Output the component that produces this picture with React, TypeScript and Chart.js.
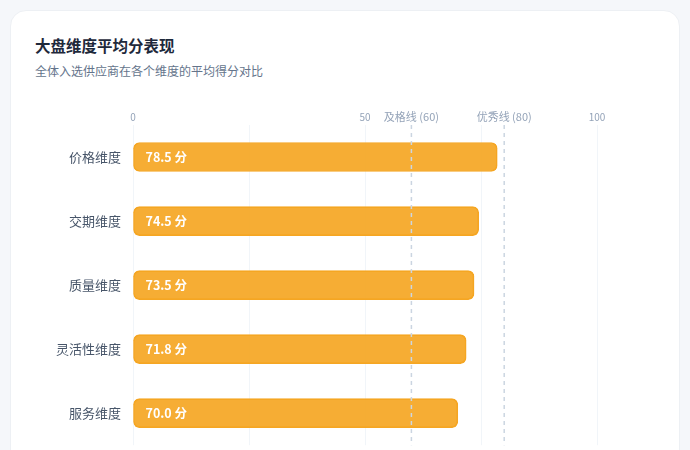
import { useEffect, useRef } from 'react';
import { Chart, registerables } from 'chart.js';

Chart.register(...registerables);

// 维度与平均分
const dimensions = ['价格维度', '交期维度', '质量维度', '灵活性维度', '服务维度'];
const avgScores = [78.5, 74.5, 73.5, 71.8, 70.0];
const shownTicks = [0, 50, 100];
const refValues = [60, 80];
const refLabels = ['及格线 (60)', '优秀线 (80)'];

const FONT = '"Noto Sans CJK SC", "Noto Sans", sans-serif';

// 参考线 + 柱内数值标签
const overlayPlugin = {
  id: 'overlay',
  afterDatasetsDraw(chart: any) {
    const { ctx, chartArea, scales } = chart;
    const xs = scales.x;
    ctx.save();
    refValues.forEach((v, i) => {
      const px = xs.getPixelForValue(v);
      ctx.beginPath();
      ctx.setLineDash([4, 4]);
      ctx.strokeStyle = '#cbd5e1';
      ctx.lineWidth = 1.5;
      ctx.moveTo(px, chartArea.top);
      ctx.lineTo(px, chartArea.bottom);
      ctx.stroke();
      ctx.setLineDash([]);
      ctx.fillStyle = '#94a3b8';
      ctx.font = `11px ${FONT}`;
      ctx.textAlign = 'center';
      ctx.textBaseline = 'middle';
      ctx.fillText(refLabels[i], px, chartArea.top - 8);
    });
    const meta = chart.getDatasetMeta(0);
    meta.data.forEach((bar: any, i: number) => {
      ctx.fillStyle = '#ffffff';
      ctx.font = `bold 12.5px ${FONT}`;
      ctx.textAlign = 'left';
      ctx.textBaseline = 'middle';
      ctx.fillText(`${avgScores[i].toFixed(1)} 分`, bar.base + 12, bar.y);
    });
    ctx.restore();
  },
};

const DimensionChart = () => {
  const chartRef = useRef<HTMLCanvasElement>(null);
  const chartInstance = useRef<Chart | null>(null);

  useEffect(() => {
    if (!chartRef.current) return;
    if (chartInstance.current) chartInstance.current.destroy();
    const ctx = chartRef.current.getContext('2d');
    if (!ctx) return;

    chartInstance.current = new Chart(ctx, {
      type: 'bar',
      data: {
        labels: dimensions,
        datasets: [
          {
            data: avgScores,
            backgroundColor: 'rgba(245, 166, 35, 0.92)',
            borderColor: '#f5a623',
            borderWidth: 1,
            borderRadius: 6,
            borderSkipped: false,
            barThickness: 29,
          },
        ],
      },
      options: {
        indexAxis: 'y',
        responsive: true,
        maintainAspectRatio: false,
        animation: false,
        layout: { padding: { right: 43, bottom: 5 } },
        plugins: {
          legend: { display: false },
          tooltip: { enabled: false },
        },
        scales: {
          x: {
            position: 'top',
            min: 0,
            max: 100,
            border: { display: false },
            grid: { color: '#f1f5f9', drawTicks: false },
            ticks: {
              stepSize: 25,
              padding: 2,
              color: '#94a3b8',
              font: { family: FONT, size: 10 },
              callback: (v: any) => (shownTicks.includes(Number(v)) ? String(v) : ''),
            },
            afterFit: (scale: any) => {
              scale.height = 30;
            },
          },
          y: {
            border: { display: false },
            grid: { display: false, drawTicks: false },
            ticks: {
              padding: 12,
              color: '#475569',
              font: { family: FONT, size: 13 },
            },
            afterFit: (scale: any) => {
              scale.width = 113;
            },
          },
        },
      },
      plugins: [overlayPlugin],
    });

    return () => {
      if (chartInstance.current) {
        chartInstance.current.destroy();
        chartInstance.current = null;
      }
    };
  }, []);

  return <canvas ref={chartRef} />;
};

export default function App() {
  return (
    <div
      style={{
        position: 'fixed',
        left: 0,
        top: 0,
        width: 690,
        height: 450,
        background: '#f5f7fa',
        overflow: 'hidden',
        fontFamily: FONT,
      }}
    >
      <div
        style={{
          position: 'absolute',
          left: 10,
          top: 10,
          width: 668,
          height: 480,
          background: '#ffffff',
          border: '1px solid #edf0f4',
          borderRadius: 16,
        }}
      />
      <div
        style={{
          position: 'absolute',
          left: 35,
          top: 33,
          fontSize: 15.5,
          lineHeight: '24px',
          fontWeight: 700,
          color: '#1e293b',
        }}
      >
        大盘维度平均分表现
      </div>
      <div
        style={{
          position: 'absolute',
          left: 35,
          top: 62,
          fontSize: 12,
          lineHeight: '18px',
          color: '#64748b',
        }}
      >
        全体入选供应商在各个维度的平均得分对比
      </div>
      <div style={{ position: 'absolute', left: 20, top: 95, width: 620, height: 370 }}>
        <DimensionChart />
      </div>
    </div>
  );
}
